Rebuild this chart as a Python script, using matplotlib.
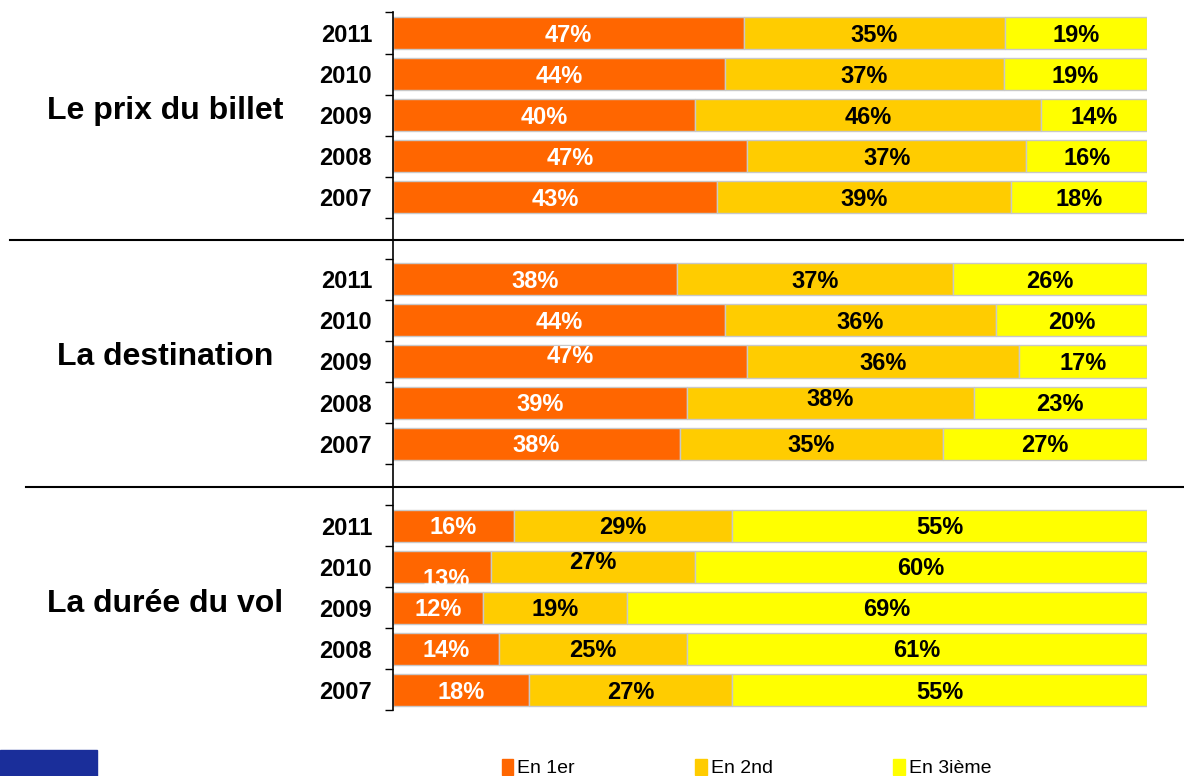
import numpy as np
import matplotlib.pyplot as plt
from matplotlib.lines import Line2D
from matplotlib.patches import Rectangle

# data: rows go 2011 -> 2007 within each group
years = ["2011", "2010", "2009", "2008", "2007"]
groups = ["Le prix du billet", "La destination", "La durée du vol"]
series_names = ["En 1er", "En 2nd", "En 3ième"]

prix_1er = [47, 44, 40, 47, 43]
prix_2nd = [35, 37, 46, 37, 39]
prix_3eme = [19, 19, 14, 16, 18]

dest_1er = [38, 44, 47, 39, 38]
dest_2nd = [37, 36, 36, 38, 35]
dest_3eme = [26, 20, 17, 23, 27]

duree_1er = [16, 13, 12, 14, 18]
duree_2nd = [29, 27, 19, 25, 27]
duree_3eme = [55, 60, 69, 61, 55]

colors = ["#FF6600", "#FFCC00", "#FFFF00"]
text_colors = ["white", "black", "black"]

# small label nudges seen in the original (group, row, segment) -> (dx, dy)
nudges = {
    (1, 2, 0): (0, -0.17),
    (1, 3, 1): (0, -0.12),
    (2, 1, 0): (0.5, 0.27),
    (2, 1, 1): (0, -0.15),
}

narrow = ["Liberation Sans Narrow", "Liberation Sans", "DejaVu Sans"]
plt.rcParams["font.family"] = ["Liberation Sans", "DejaVu Sans"]

fig = plt.figure(figsize=(11.84, 7.76), dpi=100)
ax = fig.add_axes([393 / 1184, 1 - 710.5 / 776, (1147 - 393) / 1184, (710.5 - 12.5) / 776])

data = [
    (prix_1er, prix_2nd, prix_3eme),
    (dest_1er, dest_2nd, dest_3eme),
    (duree_1er, duree_2nd, duree_3eme),
]

ytick_pos = []
ytick_lab = []
for g, series in enumerate(data):
    vals = np.array(series, dtype=float).T  # rows x 3
    totals = vals.sum(axis=1)
    norm = vals / totals[:, None] * 100
    ypos = np.arange(5) + g * 6
    left = np.zeros(5)
    for s in range(3):
        ax.barh(ypos, norm[:, s], left=left, height=0.78, color=colors[s],
                edgecolor="#C8C8C8", linewidth=1)
        for r in range(5):
            dx, dy = nudges.get((g, r, s), (0, 0))
            ax.text(left[r] + norm[r, s] / 2 + dx, ypos[r] + dy + 0.05,
                    f"{int(vals[r, s])}%", ha="center", va="center",
                    color=text_colors[s], fontsize=17, fontweight="bold",
                    family=narrow)
        left += norm[:, s]
    ytick_pos += list(ypos)
    ytick_lab += years
    fig.text(165 / 1184, 1 - (111 + g * 246.5) / 776, groups[g], ha="center",
             va="center", fontsize=23, fontweight="bold")

ax.set_xlim(0, 100)
ax.set_ylim(16.5, -0.5)
ax.set_yticks(ytick_pos)
ax.set_yticklabels(ytick_lab, fontsize=17, fontweight="bold", family=narrow)
ax.tick_params(axis="y", which="major", length=0, pad=15)
ax.set_yticks(np.arange(-0.5, 17, 1), minor=True)
ax.tick_params(axis="y", which="minor", length=6, width=1, direction="out")
ax.set_xticks([])
for side in ["top", "right", "bottom"]:
    ax.spines[side].set_visible(False)
ax.spines["left"].set_linewidth(1.2)

# separators between groups
fig.add_artist(Line2D([10 / 1184, 1], [1 - 240 / 776] * 2, color="black", lw=1.5))
fig.add_artist(Line2D([26 / 1184, 1], [1 - 487 / 776] * 2, color="black", lw=1.5))

# legend at the bottom
handles = [Rectangle((0, 0), 1, 1, color=c) for c in colors]
fig.legend(handles, series_names, ncol=3, loc="center left",
           bbox_to_anchor=(484 / 1184, 1 - 768 / 776), frameon=False,
           handlelength=0.6, handleheight=0.9, handletextpad=0.2,
           columnspacing=6.2, prop={"family": narrow, "size": 14})

# logo block bottom-left
fig.add_artist(Rectangle((0, 0), 97 / 1184, 26 / 776, color="#1A2E9A",
                         transform=fig.transFigure))

fig.savefig("out.png", dpi=100)
